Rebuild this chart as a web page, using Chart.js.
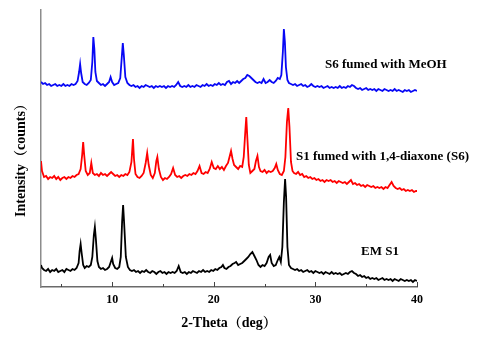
<!DOCTYPE html>
<html>
<head>
<meta charset="utf-8">
<script src="https://cdn.jsdelivr.net/npm/chart.js@4.4.0/dist/chart.umd.min.js"></script>
<style>
  html, body { margin: 0; padding: 0; background: #fff; }
  canvas { display: block; }
</style>
</head>
<body>
<canvas id="xrd" width="481" height="338"></canvas>
<script>
/* XRD patterns, offset vertically (a.u.) */

const seriesNames = ['S6 fumed with MeOH', 'S1 fumed with 1,4-diaxone (S6)', 'EM S1'];
const xTicks = [5, 10, 15, 20, 25, 30, 35, 40];
const xTitle = '2-Theta（deg）';
const yTitle = 'Intensity（counts）';

// [2-theta, intensity]
const s6MeOH = [
  [3.0,205],[3.2,203],[3.4,204],[3.6,202],[3.8,203],[4.0,201],[4.2,202],[4.4,203],[4.6,201],[4.8,202],
  [5.0,201],[5.2,203],[5.4,201],[5.6,202],[5.8,201],[6.0,203],[6.2,202],[6.4,203],[6.6,206],[6.75,215],
  [6.85,223],[6.95,214],[7.1,205],[7.3,203],[7.5,202],[7.7,204],[7.9,207],[8.05,225],[8.15,250],[8.25,238],
  [8.35,215],[8.5,206],[8.7,204],[8.9,202],[9.1,203],[9.3,201],[9.5,203],[9.7,205],[9.85,210],[10.0,205],
  [10.2,202],[10.4,203],[10.6,204],[10.8,209],[10.95,230],[11.05,244],[11.15,232],[11.3,210],[11.5,204],[11.7,202],
  [11.9,201],[12.1,202],[12.3,200],[12.5,201],[12.7,199],[12.9,201],[13.1,200],[13.3,202],[13.5,201],[13.7,200],
  [13.9,201],[14.1,199],[14.3,201],[14.5,200],[14.7,201],[14.9,200],[15.1,201],[15.3,199],[15.5,201],[15.7,200],
  [15.9,201],[16.1,200],[16.3,202],[16.5,205],[16.7,201],[16.9,200],[17.1,201],[17.3,200],[17.5,202],[17.7,200],
  [17.9,201],[18.1,200],[18.3,202],[18.5,201],[18.7,200],[18.9,202],[19.1,201],[19.3,203],[19.5,201],[19.7,202],
  [19.9,201],[20.1,203],[20.3,202],[20.5,204],[20.7,202],[20.9,203],[21.1,202],[21.3,205],[21.5,206],[21.7,203],
  [21.9,205],[22.1,204],[22.3,206],[22.5,204],[22.7,206],[22.9,208],[23.1,209],[23.3,212],[23.5,211],[23.7,209],
  [23.9,207],[24.1,205],[24.3,204],[24.5,205],[24.7,204],[24.9,208],[25.1,204],[25.3,205],[25.5,207],[25.7,205],
  [25.9,204],[26.1,206],[26.3,209],[26.5,208],[26.65,212],[26.8,235],[26.9,258],[27.0,245],[27.1,220],[27.25,207],
  [27.4,204],[27.6,203],[27.8,202],[28.0,203],[28.2,201],[28.4,202],[28.6,203],[28.8,201],[29.0,202],[29.2,200],
  [29.4,201],[29.6,203],[29.8,201],[30.0,200],[30.2,201],[30.4,200],[30.6,201],[30.8,199],[31.0,200],[31.2,201],
  [31.4,199],[31.6,200],[31.8,199],[32.0,200],[32.2,199],[32.4,201],[32.6,199],[32.8,200],[33.0,199],[33.2,201],
  [33.4,200],[33.6,202],[33.8,201],[34.0,199],[34.2,198],[34.4,199],[34.6,197],[34.8,198],[35.0,199],[35.2,197],
  [35.4,198],[35.6,197],[35.8,198],[36.0,196],[36.2,198],[36.4,197],[36.6,196],[36.8,198],[37.0,197],[37.2,196],
  [37.4,197],[37.6,196],[37.8,198],[38.0,196],[38.2,197],[38.4,196],[38.6,195],[38.8,197],[39.0,196],[39.2,197],
  [39.4,195],[39.6,196],[39.8,197],[40.0,196]
];

const s1Dioxane = [
  [3.0,126],[3.1,116],[3.3,110],[3.5,111],[3.7,108],[3.9,110],[4.1,109],[4.3,111],[4.5,108],[4.7,110],
  [4.9,107],[5.1,109],[5.3,110],[5.5,108],[5.7,110],[5.9,109],[6.1,111],[6.3,110],[6.5,112],[6.7,113],
  [6.9,118],[7.05,132],[7.15,145],[7.25,132],[7.4,116],[7.6,112],[7.8,114],[7.95,124],[8.1,114],[8.3,112],
  [8.5,113],[8.7,111],[8.9,114],[9.1,112],[9.3,113],[9.5,111],[9.7,113],[9.9,115],[10.1,113],[10.3,111],
  [10.5,112],[10.7,110],[10.9,112],[11.1,111],[11.3,113],[11.5,112],[11.7,115],[11.9,125],[12.05,148],[12.15,128],
  [12.3,113],[12.5,110],[12.7,109],[12.9,111],[13.1,114],[13.3,124],[13.45,134],[13.6,122],[13.8,112],[14.0,109],
  [14.2,114],[14.35,126],[14.45,130],[14.6,118],[14.8,110],[15.0,107],[15.2,109],[15.4,108],[15.6,110],[15.8,113],
  [16.0,119],[16.2,112],[16.4,110],[16.6,111],[16.8,109],[17.0,111],[17.2,112],[17.4,111],[17.6,113],[17.8,112],
  [18.0,114],[18.2,113],[18.4,116],[18.6,121],[18.8,114],[19.0,113],[19.2,115],[19.4,114],[19.6,118],[19.8,125],
  [20.0,119],[20.2,118],[20.4,121],[20.6,118],[20.8,120],[21.0,117],[21.2,121],[21.4,124],[21.55,130],[21.7,136],
  [21.85,128],[22.0,122],[22.2,120],[22.4,118],[22.6,121],[22.8,120],[22.95,130],[23.1,155],[23.2,170],[23.3,150],
  [23.45,122],[23.6,114],[23.8,116],[24.0,118],[24.15,126],[24.3,131],[24.45,120],[24.6,116],[24.8,115],[25.0,117],
  [25.2,114],[25.4,116],[25.6,115],[25.8,116],[26.0,119],[26.15,123],[26.3,117],[26.5,113],[26.7,112],[26.9,116],
  [27.05,130],[27.2,165],[27.33,179],[27.45,160],[27.6,125],[27.75,116],[27.9,114],[28.1,113],[28.3,115],[28.5,112],
  [28.7,113],[28.9,110],[29.1,111],[29.3,109],[29.5,110],[29.7,108],[29.9,109],[30.1,107],[30.3,108],[30.5,106],
  [30.7,107],[30.9,105],[31.1,107],[31.3,106],[31.5,107],[31.7,105],[31.9,106],[32.1,104],[32.3,106],[32.5,105],
  [32.7,104],[32.9,105],[33.1,103],[33.3,105],[33.5,107],[33.7,103],[33.9,104],[34.1,102],[34.3,103],[34.5,101],
  [34.7,102],[34.9,100],[35.1,102],[35.3,101],[35.5,100],[35.7,101],[35.9,99],[36.1,100],[36.3,99],[36.5,100],
  [36.7,98],[36.9,100],[37.1,99],[37.3,102],[37.5,105],[37.7,101],[37.9,99],[38.1,98],[38.3,99],[38.5,97],
  [38.7,98],[38.9,96],[39.1,97],[39.3,96],[39.5,97],[39.7,95],[39.9,96],[40.0,96]
];

const emS1 = [
  [3.0,22],[3.1,19],[3.3,17],[3.5,16],[3.7,18],[3.9,15],[4.1,17],[4.3,16],[4.5,18],[4.7,15],
  [4.9,16],[5.1,17],[5.3,15],[5.5,18],[5.7,17],[5.9,16],[6.1,18],[6.3,17],[6.5,19],[6.7,24],
  [6.8,36],[6.9,43],[7.0,34],[7.15,22],[7.3,19],[7.5,21],[7.7,20],[7.9,22],[8.05,30],[8.2,52],
  [8.3,60],[8.4,48],[8.55,26],[8.7,20],[8.9,18],[9.1,19],[9.3,17],[9.5,18],[9.7,20],[9.9,26],
  [10.0,29],[10.1,23],[10.3,19],[10.5,18],[10.7,20],[10.85,30],[10.98,65],[11.08,82],[11.18,64],[11.35,30],
  [11.55,20],[11.75,17],[11.95,16],[12.15,17],[12.35,15],[12.55,16],[12.75,14],[12.95,16],[13.15,15],[13.35,17],
  [13.55,15],[13.75,14],[13.95,16],[14.15,15],[14.35,13],[14.55,15],[14.75,16],[14.95,14],[15.15,15],[15.35,13],
  [15.55,15],[15.75,14],[15.95,15],[16.15,14],[16.35,16],[16.55,21],[16.75,15],[16.95,14],[17.15,15],[17.35,13],
  [17.55,15],[17.75,14],[17.95,16],[18.15,15],[18.35,14],[18.55,16],[18.75,15],[18.95,17],[19.15,15],[19.35,16],
  [19.55,15],[19.75,17],[19.95,16],[20.15,18],[20.35,17],[20.55,19],[20.75,20],[20.9,22],[21.05,19],[21.25,18],
  [21.45,20],[21.65,21],[21.85,23],[22.05,24],[22.2,25],[22.4,22],[22.6,23],[22.8,24],[23.0,26],[23.2,28],
  [23.4,30],[23.6,33],[23.8,35],[24.0,31],[24.2,27],[24.4,22],[24.6,20],[24.8,22],[25.0,21],[25.2,24],
  [25.4,30],[25.55,32],[25.7,24],[25.9,21],[26.1,22],[26.3,27],[26.45,30],[26.6,25],[26.75,40],[26.9,85],
  [27.02,108],[27.12,90],[27.25,40],[27.4,22],[27.6,19],[27.8,18],[28.0,17],[28.2,18],[28.4,16],[28.6,17],
  [28.8,15],[29.0,16],[29.2,17],[29.4,15],[29.6,16],[29.8,14],[30.0,16],[30.2,15],[30.4,14],[30.6,15],
  [30.8,13],[31.0,15],[31.2,14],[31.4,13],[31.6,15],[31.8,13],[32.0,14],[32.2,13],[32.4,14],[32.6,12],
  [32.8,13],[33.0,14],[33.2,13],[33.4,15],[33.6,16],[33.8,14],[34.0,13],[34.2,11],[34.4,12],[34.6,10],
  [34.8,11],[35.0,9],[35.2,10],[35.4,8],[35.6,9],[35.8,8],[36.0,9],[36.2,7],[36.4,8],[36.6,9],
  [36.8,7],[37.0,8],[37.2,7],[37.4,8],[37.6,6],[37.8,8],[38.0,7],[38.2,6],[38.4,8],[38.6,7],
  [38.8,6],[39.0,7],[39.2,6],[39.4,7],[39.6,5],[39.8,7],[40.0,6]
];

const SERIF = "'Liberation Serif', 'Times New Roman', 'Noto Serif CJK SC', 'Noto Sans CJK SC', serif";

// label anchors (left edge, vertical middle) in canvas px
const LABEL_POS = [[325, 65], [296, 157], [361, 252]];

const annotate = {
    id: 'annotate',
    afterDraw(chart) {
        const { ctx, chartArea, scales: { x } } = chart;
        ctx.save();

        // inward tick marks
        ctx.strokeStyle = '#444';
        ctx.lineWidth = 1;
        x.ticks.forEach(t => {
            const px = Math.round(x.getPixelForValue(t.value)) + 0.5;
            const len = t.value % 10 === 0 ? 5 : 3;
            ctx.beginPath();
            ctx.moveTo(px, chartArea.bottom);
            ctx.lineTo(px, chartArea.bottom - len);
            ctx.stroke();
        });

        ctx.fillStyle = '#000';
        ctx.textBaseline = 'middle';

        // series labels
        ctx.font = 'bold 13px ' + SERIF;
        ctx.textAlign = 'left';
        seriesNames.forEach((name, i) => {
            ctx.fillText(name, LABEL_POS[i][0], LABEL_POS[i][1]);
        });

        // y title
        ctx.font = 'bold 14px ' + SERIF;
        ctx.textAlign = 'center';
        ctx.translate(21, 157);
        ctx.rotate(-Math.PI / 2);
        ctx.fillText(yTitle, 0, 0);
        ctx.restore();
    }
};

new Chart(document.getElementById('xrd'), {
    type: 'line',
    data: {
        datasets: [
            { label: seriesNames[0], data: s6MeOH,    borderColor: '#0808f5' },
            { label: seriesNames[1], data: s1Dioxane, borderColor: '#ff0000' },
            { label: seriesNames[2], data: emS1,      borderColor: '#000000' }
        ]
    },
    options: {
        responsive: false,
        animation: false,
        devicePixelRatio: 1,
        layout: { padding: { top: 10, right: 64, left: 0, bottom: 0 } },
        elements: {
            line: { borderWidth: 1.8, tension: 0 },
            point: { radius: 0 }
        },
        plugins: {
            legend: { display: false },
            tooltip: { enabled: false }
        },
        scales: {
            x: {
                type: 'linear',
                min: 3,
                max: 40,
                afterBuildTicks: s => { s.ticks = xTicks.map(v => ({ value: v })); },
                afterFit: s => { s.height = 51; },
                grid: { display: false, drawTicks: false },
                border: { display: true, color: '#6a6a6a', width: 1.5 },
                ticks: {
                    color: '#000',
                    padding: 6,
                    maxRotation: 0,
                    font: { family: SERIF, size: 12, weight: 'bold' },
                    callback: v => (v % 10 === 0 ? v : '')
                },
                title: {
                    display: true,
                    text: xTitle,
                    color: '#000',
                    font: { family: SERIF, size: 14, weight: 'bold' },
                    padding: { top: 0, bottom: 6 }
                }
            },
            y: {
                min: 0,
                max: 277,
                afterFit: s => { s.width = 41; },
                grid: { display: false },
                border: { display: true, color: '#8c8c8c', width: 1.5 },
                ticks: { display: false }
            }
        }
    },
    plugins: [annotate]
});
</script>
</body>
</html>
